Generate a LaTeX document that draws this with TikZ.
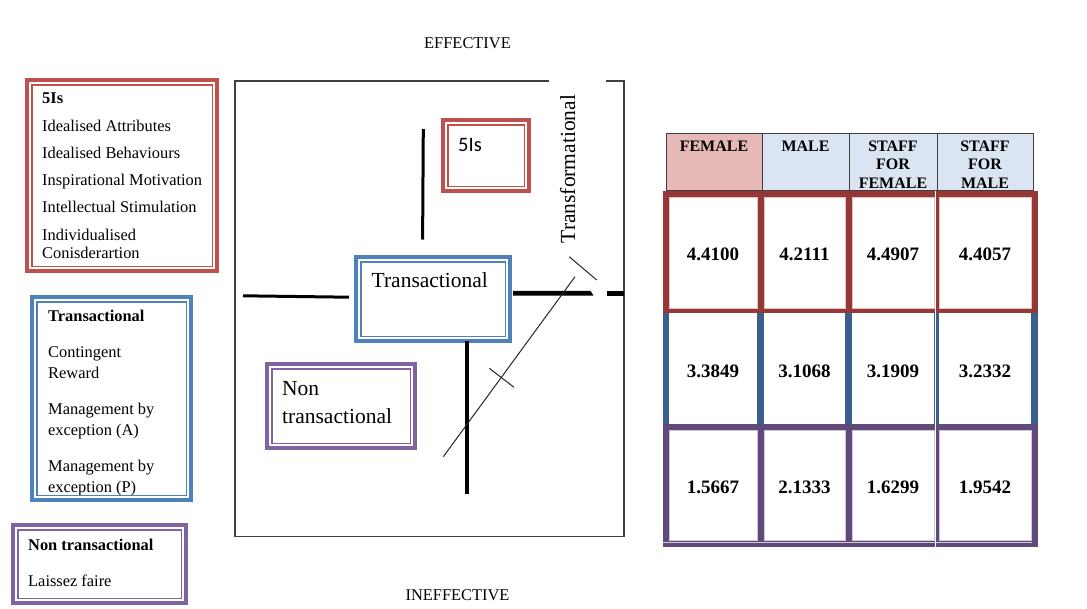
\documentclass[tikz,border=0pt]{standalone}
\usepackage{fontspec}
\setmainfont{Liberation Serif}
\newfontfamily\calibrifont{Carlito}
\usetikzlibrary{fit}

\definecolor{boxred}{HTML}{C0504D}
\definecolor{boxblue}{HTML}{4F81BD}
\definecolor{boxpurple}{HTML}{8064A2}
\definecolor{tabred}{HTML}{953735}
\definecolor{tabblue}{HTML}{3A5F8E}
\definecolor{tabpurple}{HTML}{604A7B}
\definecolor{hdrpink}{HTML}{E6B9B8}
\definecolor{hdrblue}{HTML}{DBE5F1}
\definecolor{framegray}{HTML}{404040}

\tikzset{
  % thick outer border with a thin inner border, as in Word's double frames
  dblbox/.style={draw=#1, line width=4.4pt, inner sep=0pt, outer sep=0pt,
    path picture={\draw[#1, line width=1.4pt]
      ([shift={(4.8pt,4.8pt)}]path picture bounding box.south west) rectangle
      ([shift={(-4.8pt,-4.8pt)}]path picture bounding box.north east);}},
  legend/.style={font=\fontsize{16.4}{18.8}\selectfont, inner sep=0pt, anchor=base west},
  legendhead/.style={legend, font=\fontsize{16.4}{18.8}\selectfont\bfseries},
  bigtxt/.style={font=\fontsize{21.5}{24}\selectfont, inner sep=0pt, anchor=base west},
  axislabel/.style={font=\fontsize{16.4}{18.8}\selectfont, inner sep=0pt, anchor=base},
  hdrtxt/.style={font=\fontsize{16}{18.4}\selectfont\bfseries, inner sep=0pt, anchor=base},
  valtxt/.style={font=\fontsize{19}{22}\selectfont\bfseries, inner sep=0pt, anchor=base},
  frameline/.style={draw=framegray, line width=1.2pt},
  thickbar/.style={line width=#1, black},
  thinline/.style={line width=1pt, black!85},
  hdrcell/.style={draw=framegray, line width=1pt},
}

\begin{document}
\begin{tikzpicture}[x=1pt, y=-1pt]
\useasboundingbox (0,0) rectangle (1087,608);
\fill[white] (0,0) rectangle (1087,608);

% ---------- legend boxes on the left ----------
\node[dblbox=boxred, fit={(27,80) (217,271)}] (legA) {};
\node[legendhead] (legAh) at (42,103.5) {5Is};
\node[legend] (legA1) at (42,131.5) {Idealised Attributes};
\node[legend] (legA2) at (42,158.5) {Idealised Behaviours};
\node[legend] (legA3) at (42,185) {Inspirational Motivation};
\node[legend] (legA4) at (42,212) {Intellectual Stimulation};
\node[legend] (legA5) at (42,240) {Individualised};
\node[legend] (legA6) at (42,258.5) {Conisderartion};

\node[dblbox=boxblue, fit={(32,297) (191,500)}] (legB) {};
\begin{scope}
  \clip (37,302) rectangle (186,494.5);
  \node[legendhead] (legBh) at (48,321) {Transactional};
  \node[legend] (legB1) at (48,357) {Contingent};
  \node[legend] (legB2) at (48,378.5) {Reward};
  \node[legend] (legB3) at (48,414) {Management by};
  \node[legend] (legB4) at (48,435.5) {exception (A)};
  \node[legend] (legB5) at (48,471) {Management by};
  \node[legend] (legB6) at (48,492.5) {exception (P)};
\end{scope}

\node[dblbox=boxpurple, fit={(13,525) (186,603)}] (legC) {};
\node[legendhead] (legCh) at (28,550) {Non transactional};
\node[legend] (legC1) at (28,586.5) {Laissez faire};

% ---------- axis labels ----------
\node[axislabel] (eff) at (467.5,48.5) {EFFECTIVE};
\node[axislabel] (ineff) at (457.5,600) {INEFFECTIVE};

% ---------- quadrant frame, open at the top for the label ----------
\draw[frameline] (549,81) -| (235,536.5) -| (624,81) -- (606,81);
\node[bigtxt, rotate=90] (transf) at (575,243.5) {Transformational};

% ---------- boxes inside the frame ----------
\node[dblbox=boxred, fit={(443,120) (529,191)}] (fiveIs) {};
\node[font=\calibrifont\fontsize{20.5}{24}\selectfont, inner sep=0pt, anchor=base west]
  (fiveIstxt) at (458,151.5) {5Is};

\node[dblbox=boxblue, fit={(356,257) (510,341)}] (trans) {};
\node[bigtxt] (transtxt) at (371.5,287) {Transactional};

\node[dblbox=boxpurple, fit={(267,364) (415,448)}] (nontrans) {};
\node[bigtxt] (nontxt1) at (282,395) {Non};
\node[bigtxt] (nontxt2) at (282,423) {transactional};

% ---------- axes lines ----------
\coordinate (vtopA) at (423.3,129);
\coordinate (vtopB) at (422.6,239.5);
\draw[thickbar=3pt] (vtopA) -- (vtopB);

\coordinate (hleftA) at (243,295.8);
\coordinate (hleftB) at (349,297.2);
\draw[thickbar=3pt] (hleftA) -- (hleftB);

\coordinate (hrightA) at (513,290.9);
\fill[black] (hrightA) -- (590.5,290.9) -- (593.5,295.7) -- (513,295.7) -- cycle;
\coordinate (hendA) at (606.5,293.3);
\coordinate (hendB) at (624,293.3);
\draw[thickbar=4.8pt] (hendA) -- (hendB);

\coordinate (vbotA) at (467.3,340.5);
\coordinate (vbotB) at (467.3,493.5);
\draw[thickbar=4.2pt] (vbotA) -- (vbotB);

% diagonal with its crossing tick, and the short stroke under the label
\coordinate (diagA) at (443.3,456.7);
\coordinate (diagB) at (575,276.7);
\draw[thinline] (diagA) -- (diagB);
\coordinate (tickA) at (489.3,368.3);
\coordinate (tickB) at (514,387.3);
\draw[thinline] (tickA) -- (tickB);
\coordinate (slashA) at (569.3,256.7);
\coordinate (slashB) at (596.7,280);
\draw[thinline] (slashA) -- (slashB);

% ---------- score table ----------
\draw[hdrcell, fill=hdrpink] (666,133.3) rectangle (762,190.5);
\draw[hdrcell, fill=hdrblue] (762,133.3) rectangle (849,190.5);
\draw[hdrcell, fill=hdrblue] (849,133.3) rectangle (937,190.5);
\draw[hdrcell, fill=hdrblue] (937,133.3) rectangle (1033.3,190.5);

\node[hdrtxt] (hF) at (714,151) {FEMALE};
\node[hdrtxt] (hM) at (805.5,151) {MALE};
\node[hdrtxt] (hSF1) at (893,151) {STAFF};
\node[hdrtxt] (hSF2) at (893,169.5) {FOR};
\node[hdrtxt] (hSF3) at (893,188) {FEMALE};
\node[hdrtxt] (hSM1) at (985,151) {STAFF};
\node[hdrtxt] (hSM2) at (985,169.5) {FOR};
\node[hdrtxt] (hSM3) at (985,188) {MALE};

\fill[tabred] (663,191) rectangle (1038,313);
\fill[tabblue] (663,313) rectangle (1038,424);
\fill[tabpurple] (663,424) rectangle (1037.5,547);

\foreach \xa/\xb in {669/757, 764/845, 852/934, 939/1031}{
  \draw[draw=white!70!tabred, line width=0.8pt, fill=white] (\xa,197) rectangle (\xb,308);
  \fill[white] (\xa,313) rectangle (\xb,424);
  \draw[draw=white!70!tabpurple, line width=0.8pt, fill=white] (\xa,430) rectangle (\xb,540.5);
}
\draw[white, line width=0.7pt] (935,191) -- (935,547);
\draw[white!70!tabpurple, line width=0.7pt] (663,542.8) -- (1032,542.8);

\node[valtxt] (v11) at (713,260) {4.4100};
\node[valtxt] (v12) at (804.5,260) {4.2111};
\node[valtxt] (v13) at (893,260) {4.4907};
\node[valtxt] (v14) at (985,260) {4.4057};
\node[valtxt] (v21) at (713,377) {3.3849};
\node[valtxt] (v22) at (804.5,377) {3.1068};
\node[valtxt] (v23) at (893,377) {3.1909};
\node[valtxt] (v24) at (985,377) {3.2332};
\node[valtxt] (v31) at (713,493) {1.5667};
\node[valtxt] (v32) at (804.5,493) {2.1333};
\node[valtxt] (v33) at (893,493) {1.6299};
\node[valtxt] (v34) at (985,493) {1.9542};
\end{tikzpicture}
\end{document}
